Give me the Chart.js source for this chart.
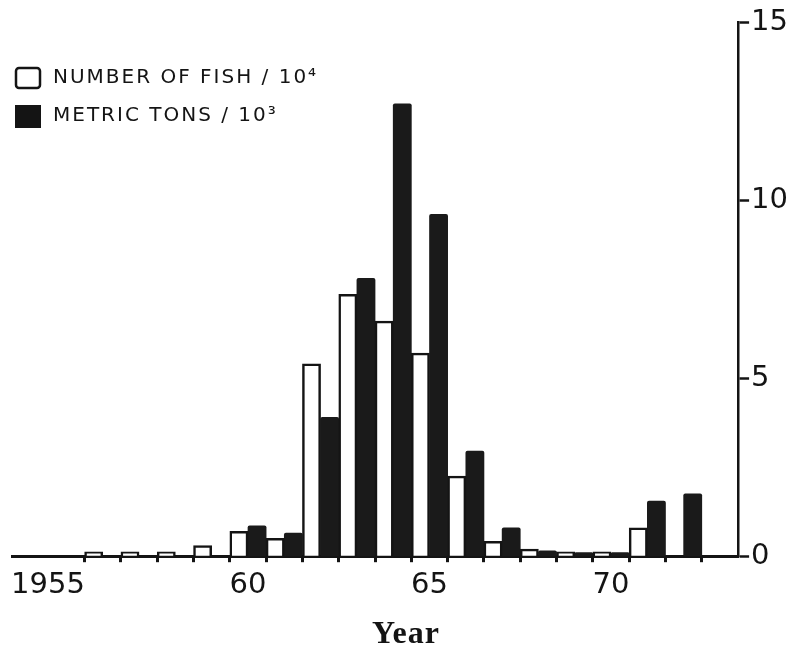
<!DOCTYPE html>
<html>
<head>
<meta charset="utf-8">
<script src="https://cdn.jsdelivr.net/npm/chart.js@4"></script>
<style>
  body { margin: 0; background: #fff; }
  canvas { display: block; }
</style>
</head>
<body>
<canvas id="chart1" width="790" height="648"></canvas>
<script>
// years on the x axis (1954 and 1973 are empty padding slots)
const years = ['1954', '1955', '1956', '1957', '1958', '1959', '1960', '1961', '1962', '1963',
               '1964', '1965', '1966', '1967', '1968', '1969', '1970', '1971', '1972', '1973'];
// only these years get a label under the axis
const yearLabels = { '1955': '1955    ', '1960': '60', '1965': '65', '1970': '70' };

// number of fish / 10^4
const fish = [null, null, 0.12, 0.12, 0.12, 0.3, 0.7, 0.5, 5.4, 7.35,
              6.6, 5.7, 2.25, 0.42, 0.2, 0.12, 0.12, 0.8, null, null];
// metric tons / 10^3
const tons = [null, null, null, null, null, null, 0.85, 0.65, 3.9, 7.8,
              12.7, 9.6, 2.95, 0.8, 0.15, 0.1, 0.1, 1.55, 1.75, null];

const yTicks = [0, 5, 10, 15];

const ink = '#141414';

// legend in the upper left corner + the "Year" caption
const extras = {
    id: 'extras',
    afterDraw(chart) {
        const ctx = chart.ctx;
        ctx.save();
        ctx.fillStyle = ink;
        ctx.strokeStyle = ink;
        ctx.font = '20px "DejaVu Sans"';
        ctx.letterSpacing = '2px';
        ctx.textBaseline = 'middle';
        chart.data.datasets.forEach((ds, i) => {
            const y = 67 + i * 38;
            if (i === 0) {
                ctx.lineWidth = 2.5;
                ctx.beginPath();
                ctx.roundRect(16, y + 1, 24, 20, 3);
                ctx.stroke();
            } else {
                ctx.fillRect(15, y, 26, 23);
            }
            ctx.fillText(ds.label, 53, y + 11);
        });
        ctx.letterSpacing = '1px';
        ctx.font = 'bold 32px "Liberation Serif"';
        ctx.textAlign = 'center';
        ctx.textBaseline = 'alphabetic';
        ctx.fillText('Year', 406, 643);
        ctx.restore();
    }
};

const ctx = document.querySelector('#chart1').getContext('2d');
const chart = new Chart(ctx, {
    type: 'bar',
    data: {
        labels: years,
        datasets: [{
            label: 'NUMBER OF FISH / 10⁴',
            data: fish,
            backgroundColor: '#fff',
            borderColor: ink,
            borderWidth: 2.5,
            borderSkipped: 'bottom'
        }, {
            label: 'METRIC TONS / 10³',
            data: tons,
            backgroundColor: '#1a1a1a',
            borderWidth: 0,
            borderRadius: { topLeft: 2, topRight: 2 }
        }]
    },
    options: {
        responsive: false,
        animation: false,
        devicePixelRatio: 1,
        layout: { padding: { left: 12, top: 22, right: 0, bottom: 39 } },
        datasets: { bar: { barPercentage: 1, categoryPercentage: 1 } },
        plugins: {
            legend: { display: false },
            tooltip: { enabled: false }
        },
        scales: {
            x: {
                grid: {
                    drawOnChartArea: false,
                    offset: true,
                    tickLength: 6,
                    tickWidth: 3,
                    tickColor: (c) => (c.index >= 2 && c.index <= 19) ? ink : 'rgba(0,0,0,0)'
                },
                border: { color: ink, width: 3 },
                ticks: {
                    autoSkip: false,
                    maxRotation: 0,
                    padding: 6,
                    color: ink,
                    font: { family: 'DejaVu Sans', size: 29 },
                    callback: function (value) {
                        const y = this.getLabelForValue(value);
                        return yearLabels[y] || '';
                    }
                }
            },
            y: {
                position: 'right',
                min: 0,
                max: 15,
                afterBuildTicks: (scale) => { scale.ticks = yTicks.map(v => ({ value: v })); },
                grid: {
                    drawOnChartArea: false,
                    tickLength: 11,
                    tickWidth: 2.5,
                    tickColor: ink
                },
                border: { color: ink, width: 2.5 },
                ticks: {
                    padding: 2,
                    color: ink,
                    font: { family: 'DejaVu Sans', size: 29 }
                }
            }
        }
    },
    plugins: [extras]
});
</script>
</body>
</html>
